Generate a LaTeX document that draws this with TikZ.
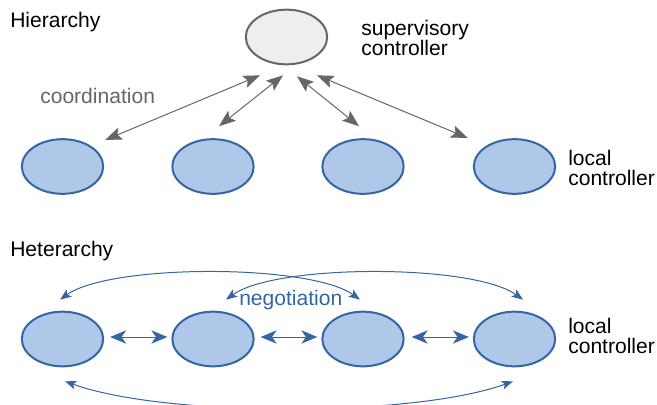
\documentclass[tikz,border=0pt]{standalone}
\usepackage{fontspec}
\setmainfont{Liberation Sans}
\usetikzlibrary{arrows.meta,shapes.geometric,calc}
\definecolor{ctrlblue}{HTML}{3465A4}
\definecolor{ctrlfill}{HTML}{AFC7E8}
\definecolor{supfill}{HTML}{EEEEEE}
\definecolor{linkgray}{HTML}{666666}
\begin{document}
\begin{tikzpicture}[x=0.75pt,y=-0.75pt,
  every node/.style={inner sep=0pt, font=\fontsize{15.8}{14.8}\selectfont},
  supnode/.style={ellipse, draw=linkgray, fill=supfill, line width=1.5pt,
    minimum width=61pt, minimum height=41pt},
  localnode/.style={ellipse, draw=ctrlblue, fill=ctrlfill, line width=1.5pt,
    minimum width=61pt, minimum height=41pt},
  textlabel/.style={anchor=base west, align=left},
  coordlink/.style={draw=linkgray, line width=0.75pt,
    {Stealth[length=12.5pt,width=9.5pt,inset=2.5pt]}-{Stealth[length=12.5pt,width=9.5pt,inset=2.5pt]}},
  peerlink/.style={draw=ctrlblue, line width=0.75pt,
    {Stealth[length=12pt,width=10pt,inset=3.5pt]}-{Stealth[length=12pt,width=10pt,inset=3.5pt]}},
  peerarc/.style={draw=ctrlblue, line width=0.75pt,
    {Stealth[length=8.5pt,width=6.5pt,inset=2pt]}-{Stealth[length=8.5pt,width=6.5pt,inset=2pt]}},
]
\useasboundingbox (0,0) rectangle (657,404);

% ---------- hierarchy ----------
\node[textlabel] (hiertitle) at (10,27.3) {Hierarchy};
\node[supnode] (sup) at (286.5,37) {};
% two-line labels are anchored at the baseline of their last line
\node[textlabel] (suplabel) at (361,55.5) {supervisory\\controller};

\node[localnode] (l1) at (62.5,166.5) {};
\node[localnode] (l2) at (213,166.5) {};
\node[localnode] (l3) at (363,166.5) {};
\node[localnode] (l4) at (514.5,166.5) {};
\node[textlabel] (l4label) at (568,185.3) {local\\controller};

\node[textlabel, text=linkgray] (coordlabel) at (40,103) {coordination};

\draw[coordlink] ([shift={(1,-26.5)}]l1.east) -- ([shift={(-26.5,10)}]sup.south);
\draw[coordlink] ([shift={(6,-12)}]l2.north) -- ([shift={(-3.5,10)}]sup.south);
\draw[coordlink] ([shift={(-4,-12)}]l3.north) -- ([shift={(10.5,11)}]sup.south);
\draw[coordlink] ([shift={(-5,-28.5)}]l4.west) -- ([shift={(30.5,10)}]sup.south);

% ---------- heterarchy ----------
\node[textlabel] (hettitle) at (10,256.7) {Heterarchy};

\node[localnode] (r1) at (62.5,339) {};
\node[localnode] (r2) at (213,339) {};
\node[localnode] (r3) at (363,339) {};
\node[localnode] (r4) at (514.5,339) {};
\node[textlabel] (r4label) at (568,353.3) {local\\controller};

\node[textlabel, text=ctrlblue] (neglabel) at (239,305) {negotiation};

\draw[peerlink] ([shift={(6,-2)}]r1.east) -- ([shift={(-4,-2)}]r2.west);
\draw[peerlink] ([shift={(6,-2)}]r2.east) -- ([shift={(-4,-2)}]r3.west);
\draw[peerlink] ([shift={(7,-2)}]r3.east) -- ([shift={(-4,-2)}]r4.west);

\draw[peerarc] ([shift={(-2.5,-11)}]r1.north)
  .. controls +(50,-36) and +(-50,-36) .. ([shift={(-3,-11)}]r3.north);
\draw[peerarc] ([shift={(13,-11)}]r2.north)
  .. controls +(50,-36) and +(-50,-36) .. ([shift={(8.5,-11)}]r4.north);
\draw[peerarc] ([shift={(2.5,14)}]r1.south)
  .. controls +(100,36) and +(-100,36) .. ([shift={(-1.5,14)}]r4.south);
\end{tikzpicture}
\end{document}
